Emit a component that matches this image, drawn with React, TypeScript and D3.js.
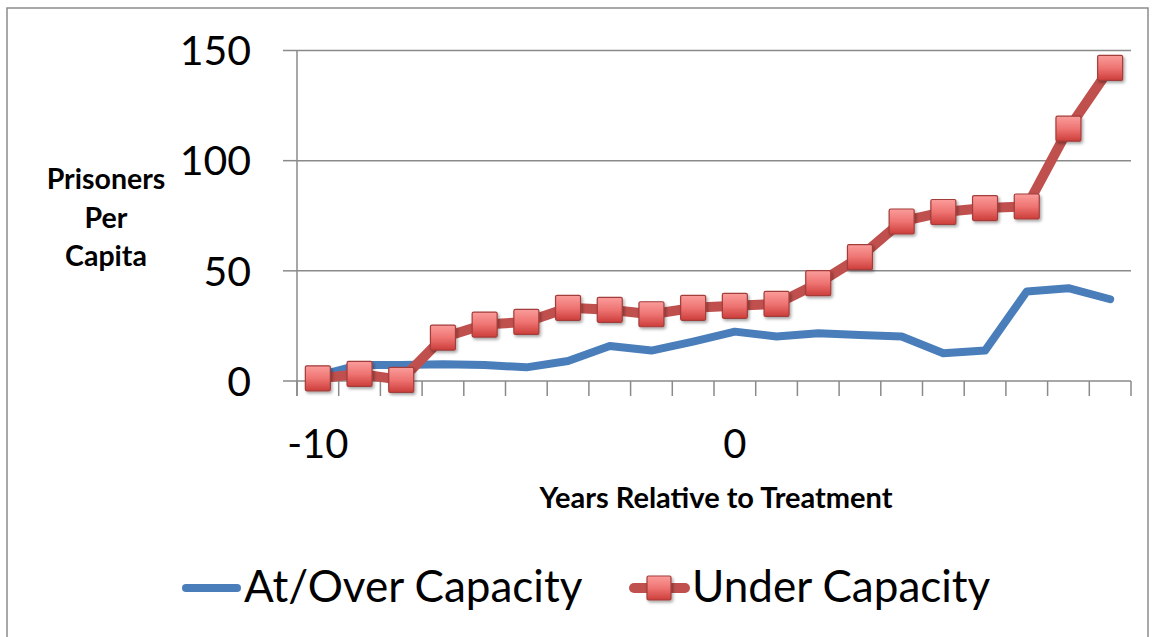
import React from "react";
import * as d3 from "d3";

// Years relative to treatment and prisoner counts per capita for each group
const years: number[] = [-10, -9, -8, -7, -6, -5, -4, -3, -2, -1, 0, 1, 2, 3, 4, 5, 6, 7, 8, 9];
const atOverCapacity: number[] = [2.3, 7.3, 7.3, 7.6, 7.3, 6.2, 9.1, 15.9, 13.8, 17.9, 22.4, 20.2, 21.7, 20.9, 20.2, 12.6, 13.8, 40.6, 42.1, 37.1];
const underCapacity: number[] = [1.2, 3.2, 0.5, 19.7, 25.6, 26.8, 33.2, 32.3, 30.3, 33.2, 34.1, 35.0, 44.4, 56.2, 72.4, 76.7, 78.5, 79.2, 114.5, 142.1];
const yTicks: number[] = [0, 50, 100, 150];
const xTickLabels: number[] = [-10, 0];
const seriesNames: string[] = ["At/Over Capacity", "Under Capacity"];

const W = 1154;
const H = 637;
const FONT = "Lato, 'Open Sans', sans-serif";
const BLUE = "#4a7ebb";
const RED = "#c0504d";
const GRID = "#8a8a8a";

export default function App() {
  const plotLeft = 297;
  const plotRight = 1131;
  const yScale = d3.scaleLinear().domain([0, 150]).range([381, 50.5]);
  const xBand = d3.scaleBand<number>().domain(years).range([plotLeft, plotRight]);
  const xPos = (v: number) => (xBand(v) as number) + xBand.bandwidth() / 2;

  const line = d3
    .line<number>()
    .x((_, i) => xPos(years[i]))
    .y((d) => yScale(d));

  const boundaries = d3.range(years.length + 1).map((i) => plotLeft + i * xBand.step());

  const marker = (cx: number, cy: number, key: React.Key, m = 12.5) => (
    <rect
      key={key}
      x={cx - m}
      y={cy - m}
      width={2 * m}
      height={2 * m}
      rx={1.5}
      fill="url(#mkGrad)"
      stroke="#a33c3a"
      strokeWidth={1.2}
      filter="url(#mkShadow)"
    />
  );

  return (
    <svg
      width={W}
      height={H}
      style={{ position: "absolute", left: 0, top: 0, background: "#fff" }}
      fontFamily={FONT}
    >
      <defs>
        <linearGradient id="mkGrad" x1="0" y1="0" x2="0" y2="1">
          <stop offset="0" stopColor="#fa9d9b" />
          <stop offset="0.5" stopColor="#ee7472" />
          <stop offset="1" stopColor="#cc3d3a" />
        </linearGradient>
        <filter id="mkShadow" x="-40%" y="-40%" width="180%" height="180%">
          <feDropShadow dx="1.5" dy="2" stdDeviation="1.5" floodColor="#000" floodOpacity="0.35" />
        </filter>
      </defs>

      {/* outer frame */}
      <rect x={7} y={8} width={1141} height={640} fill="#fff" stroke="#8c8c8c" strokeWidth={1.5} />

      {/* horizontal gridlines and y ticks */}
      {yTicks.map((t) => (
        <g key={t}>
          {t > 0 && (
            <line x1={plotLeft} x2={plotRight} y1={yScale(t)} y2={yScale(t)} stroke={GRID} strokeWidth={1.5} />
          )}
          <line x1={283} x2={plotLeft} y1={yScale(t)} y2={yScale(t)} stroke={GRID} strokeWidth={1.5} />
          <text x={251} y={yScale(t)} dy="0.36em" textAnchor="end" fontSize={41} fill="#000">
            {t}
          </text>
        </g>
      ))}

      {/* axes */}
      <line x1={plotLeft} x2={plotLeft} y1={yScale(150)} y2={yScale(0) + 15} stroke={GRID} strokeWidth={1.5} />
      <line x1={plotLeft} x2={plotRight} y1={yScale(0)} y2={yScale(0)} stroke={GRID} strokeWidth={1.5} />
      {boundaries.map((bx, i) => (
        <line key={i} x1={bx} x2={bx} y1={yScale(0)} y2={yScale(0) + 15} stroke={GRID} strokeWidth={1.5} />
      ))}
      {xTickLabels.map((v) => (
        <text key={v} x={xPos(v)} y={444} dy="0.36em" textAnchor="middle" fontSize={40} fill="#000">
          {v}
        </text>
      ))}

      {/* axis titles */}
      <text textAnchor="middle" fontSize={28.5} fontWeight="bold" fill="#000">
        <tspan x={106} y={189}>Prisoners</tspan>
        <tspan x={106} y={228}>Per</tspan>
        <tspan x={106} y={266}>Capita</tspan>
      </text>
      <text x={716} y={508} textAnchor="middle" fontSize={29} fontWeight="bold" fill="#000">
        Years Relative to Treatment
      </text>

      {/* series */}
      <path d={line(atOverCapacity) as string} fill="none" stroke={BLUE} strokeWidth={8} strokeLinejoin="round" strokeLinecap="round" />
      <path d={line(underCapacity) as string} fill="none" stroke={RED} strokeWidth={10} strokeLinejoin="round" />
      {underCapacity.map((v, i) => marker(xPos(years[i]), yScale(v), i))}

      {/* legend */}
      <line x1={186} x2={237} y1={588} y2={588} stroke={BLUE} strokeWidth={8} strokeLinecap="round" />
      <text x={244} y={602} fontSize={44} fill="#000">
        {seriesNames[0]}
      </text>
      <line x1={634} x2={685} y1={588} y2={588} stroke={RED} strokeWidth={10} strokeLinecap="round" />
      {marker(659, 588, "legend", 12)}
      <text x={692} y={602} fontSize={44} fill="#000">
        {seriesNames[1]}
      </text>
    </svg>
  );
}
